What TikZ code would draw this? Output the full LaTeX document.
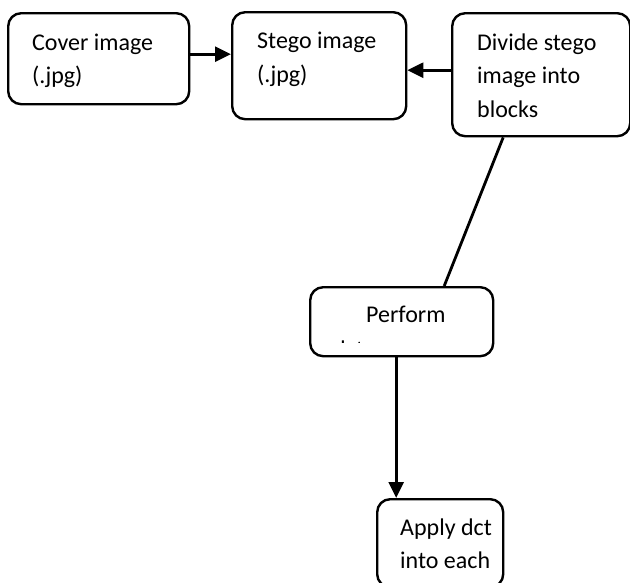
\documentclass[tikz,border=0pt]{standalone}
\usepackage{fontspec}
\setmainfont{Carlito}
\usetikzlibrary{arrows.meta}
\begin{document}
\begin{tikzpicture}[x=1pt,y=-1pt,
  box/.style={draw, line width=2.4pt, rounded corners=13pt, inner sep=0pt, anchor=north west},
  txt/.style={anchor=base west, inner sep=0pt, font=\fontsize{24}{33}\selectfont},
  conn/.style={line width=2.8pt},
  arr/.style={conn, -{Triangle[length=16pt,width=15pt]}}]
\useasboundingbox (0,0) rectangle (630,582);
% boxes
\node[box, minimum width=181pt, minimum height=91pt] (cover) at (7,12) {};
\node[box, minimum width=174pt, minimum height=107pt] (stego) at (231,11) {};
\node[box, minimum width=178pt, minimum height=123pt] (divide) at (451,12) {};
\node[box, minimum width=183pt, minimum height=69pt] (perform) at (309,286) {};
\node[box, minimum width=126pt, minimum height=88pt] (apply) at (376,498) {};
% texts
\node[txt] (cover1) at (32,50) {Cover image};
\node[txt] (cover2) at (32,83) {(.jpg)};
\node[txt] (stego1) at (257,48) {Stego image};
\node[txt] (stego2) at (257,82) {(.jpg)};
\node[txt] (divide1) at (477,50) {Divide stego};
\node[txt] (divide2) at (477,83) {image into};
\node[txt] (divide3) at (477,117) {blocks};
\node[txt] (perform1) at (366,322) {Perform};
\begin{scope}
  \clip (330,339.5) rectangle (372,342.5);
  \node[txt] (perform2) at (333,357) {dct};
\end{scope}
\node[txt] (apply1) at (400,535) {Apply dct};
\node[txt] (apply2) at (400,568) {into each};
% connectors
\draw[arr] ([yshift=4.5pt]cover.east) -- ([yshift=4.5pt]cover.east -| stego.west);
\draw[arr] ([yshift=4.5pt]divide.west) -- ([yshift=4.5pt]divide.west -| stego.east);
\draw[conn] ([xshift=-38pt]divide.south) -- ([xshift=42.5pt]perform.north);
\draw[arr] ([xshift=-5.5pt]perform.south) -- ([xshift=-5.5pt]perform.south |- apply.north);
\end{tikzpicture}
\end{document}
